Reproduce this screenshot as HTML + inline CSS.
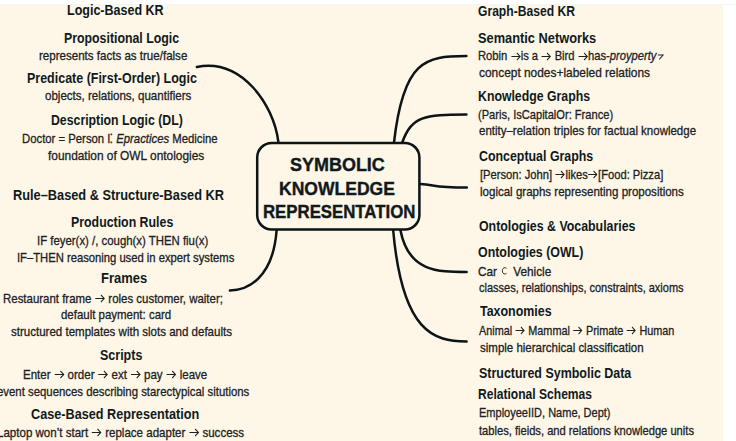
<!DOCTYPE html>
<html><head><meta charset="utf-8"><style>
html,body{margin:0;padding:0;}
body{width:736px;height:441px;overflow:hidden;position:relative;background:#fff;font-family:"Liberation Sans",sans-serif;color:#101a1d;}
#bg{position:absolute;left:0;top:5px;width:723px;height:436px;background:#fef6e7;}
#ln{position:absolute;left:0;top:4px;width:736px;height:1px;background:#f4f5f6;}
.t0,.t1,.t2{position:absolute;white-space:nowrap;transform-origin:0 0;}
.t0{font-size:13.0px;line-height:13.0px;color:#1a2225;-webkit-text-stroke:0.3px #1a2225;}
.t1{font-size:14.2px;line-height:14.2px;font-weight:bold;}
.ar{display:inline-block;vertical-align:-0.5px;}.sb{display:inline-block;vertical-align:1px;margin-left:1px}.sv{display:inline-block;vertical-align:0.5px;margin-left:0.5px}
.t2{font-size:19.0px;line-height:19.0px;font-weight:bold;-webkit-text-stroke:0.4px #101a1d;}
</style></head><body>
<div id="ln"></div><div id="bg"></div>
<svg width="736" height="441" style="position:absolute;left:0;top:0" fill="none" stroke="#0c1416" stroke-width="2.5" stroke-linecap="round">
<path d="M196.9,66.9 C241,58.2 273.6,103.5 278.4,142"/>
<path d="M276.6,230.5 C272.9,278.9 246.8,290.4 229.9,290.4"/>
<path d="M394,142.5 C403.3,60.1 425.3,56 466.4,56"/>
<path d="M402.2,142.5 C412,115.9 424.2,114.6 466.4,114.6"/>
<path d="M420,184.1 C436.6,184.9 431.7,187.6 466.8,187.6"/>
<path d="M400.5,230.5 C408.6,271.9 438,272 466.6,272"/>
<path d="M393.2,230.5 C402.3,332.8 434.3,341.4 466.6,341.4"/>
<rect x="257.2" y="143" width="162.2" height="86.5" rx="14.5" ry="14.5"/>
</svg>
<div class="t1" style="left:66.92px;top:3.28px;transform:scaleX(0.8815)">Logic-Based KR</div>
<div class="t1" style="left:63.63px;top:30.98px;transform:scaleX(0.8687)">Propositional Logic</div>
<div class="t0" style="left:39.41px;top:48.80px;transform:scaleX(0.8886)">represents facts as true/false</div>
<div class="t1" style="left:26.62px;top:70.98px;transform:scaleX(0.8792)">Predicate (First-Order) Logic</div>
<div class="t0" style="left:44.60px;top:89.20px;transform:scaleX(0.8878)">objects, relations, quantifiers</div>
<div class="t1" style="left:50.73px;top:112.68px;transform:scaleX(0.8662)">Description Logic (DL)</div>
<div class="t0" style="left:22.23px;top:132.00px;transform:scaleX(0.8713)">Doctor = Person I&#8282; <i>Epractices</i> Medicine</div>
<div class="t0" style="left:47.60px;top:149.40px;transform:scaleX(0.9147)">foundation of OWL ontologies</div>
<div class="t1" style="left:12.70px;top:187.68px;transform:scaleX(0.9009)">Rule&ndash;Based &amp; Structure-Based KR</div>
<div class="t1" style="left:70.73px;top:214.98px;transform:scaleX(0.8707)">Production Rules</div>
<div class="t0" style="left:37.12px;top:233.70px;transform:scaleX(0.8758)">IF feyer(x) /, cough(x) THEN fiu(x)</div>
<div class="t0" style="left:16.84px;top:250.70px;transform:scaleX(0.8640)">IF&ndash;THEN reasoning used in expert systems</div>
<div class="t1" style="left:100.99px;top:271.38px;transform:scaleX(0.9143)">Frames</div>
<div class="t0" style="left:3.22px;top:291.70px;transform:scaleX(0.8806)">Restaurant frame <svg class="ar" width="12" height="9" viewBox="0 0 12 9"><path d="M0.8,4.5H11M7.2,1L11,4.5L7.2,8" fill="none" stroke="currentColor" stroke-width="1.05"/></svg> roles customer, waiter;</div>
<div class="t0" style="left:60.50px;top:308.00px;transform:scaleX(0.8815)">default payment: card</div>
<div class="t0" style="left:11.01px;top:325.00px;transform:scaleX(0.8863)">structured templates with slots and defaults</div>
<div class="t1" style="left:100.42px;top:347.98px;transform:scaleX(0.8809)">Scripts</div>
<div class="t0" style="left:22.91px;top:367.60px;transform:scaleX(0.8869)">Enter <svg class="ar" width="12" height="9" viewBox="0 0 12 9"><path d="M0.8,4.5H11M7.2,1L11,4.5L7.2,8" fill="none" stroke="currentColor" stroke-width="1.05"/></svg> order <svg class="ar" width="12" height="9" viewBox="0 0 12 9"><path d="M0.8,4.5H11M7.2,1L11,4.5L7.2,8" fill="none" stroke="currentColor" stroke-width="1.05"/></svg> ext <svg class="ar" width="12" height="9" viewBox="0 0 12 9"><path d="M0.8,4.5H11M7.2,1L11,4.5L7.2,8" fill="none" stroke="currentColor" stroke-width="1.05"/></svg> pay <svg class="ar" width="12" height="9" viewBox="0 0 12 9"><path d="M0.8,4.5H11M7.2,1L11,4.5L7.2,8" fill="none" stroke="currentColor" stroke-width="1.05"/></svg> leave</div>
<div class="t0" style="left:-3.00px;top:384.50px;transform:scaleX(0.8750)">event sequences describing starectypical situtions</div>
<div class="t1" style="left:30.91px;top:406.68px;transform:scaleX(0.8925)">Case-Based Representation</div>
<div class="t0" style="left:-2.89px;top:425.90px;transform:scaleX(0.8877)">Laptop won&rsquo;t start <svg class="ar" width="12" height="9" viewBox="0 0 12 9"><path d="M0.8,4.5H11M7.2,1L11,4.5L7.2,8" fill="none" stroke="currentColor" stroke-width="1.05"/></svg> replace adapter <svg class="ar" width="12" height="9" viewBox="0 0 12 9"><path d="M0.8,4.5H11M7.2,1L11,4.5L7.2,8" fill="none" stroke="currentColor" stroke-width="1.05"/></svg> success</div>
<div class="t1" style="left:478.15px;top:3.68px;transform:scaleX(0.8536)">Graph-Based KR</div>
<div class="t1" style="left:478.10px;top:30.98px;transform:scaleX(0.9031)">Semantic Networks</div>
<div class="t0" style="left:477.64px;top:49.00px;transform:scaleX(0.8609)">Robin <svg class="ar" width="12" height="9" viewBox="0 0 12 9"><path d="M0.8,4.5H11M7.2,1L11,4.5L7.2,8" fill="none" stroke="currentColor" stroke-width="1.05"/></svg>is a <svg class="ar" width="12" height="9" viewBox="0 0 12 9"><path d="M0.8,4.5H11M7.2,1L11,4.5L7.2,8" fill="none" stroke="currentColor" stroke-width="1.05"/></svg> Bird <svg class="ar" width="12" height="9" viewBox="0 0 12 9"><path d="M0.8,4.5H11M7.2,1L11,4.5L7.2,8" fill="none" stroke="currentColor" stroke-width="1.05"/></svg>has-<i>proyperty</i><svg class="sv" width="8" height="6" viewBox="0 0 8 6"><path d="M1,0.9H7.2L2.6,5.3" fill="none" stroke="currentColor" stroke-width="1.05"/></svg></div>
<div class="t0" style="left:478.70px;top:66.30px;transform:scaleX(0.9156)">concept nodes+labeled relations</div>
<div class="t1" style="left:478.13px;top:89.28px;transform:scaleX(0.8664)">Knowledge Graphs</div>
<div class="t0" style="left:477.95px;top:108.00px;transform:scaleX(0.8538)">(Paris, IsCapitalOr: France)</div>
<div class="t0" style="left:478.50px;top:124.30px;transform:scaleX(0.8833)">entity&ndash;relation triples for factual knowledge</div>
<div class="t1" style="left:478.63px;top:148.58px;transform:scaleX(0.8731)">Conceptual Graphs</div>
<div class="t0" style="left:479.64px;top:167.80px;transform:scaleX(0.8590)">[Person: John] <svg class="ar" width="12" height="9" viewBox="0 0 12 9"><path d="M0.8,4.5H11M7.2,1L11,4.5L7.2,8" fill="none" stroke="currentColor" stroke-width="1.05"/></svg>likes<svg class="ar" width="12" height="9" viewBox="0 0 12 9"><path d="M0.8,4.5H11M7.2,1L11,4.5L7.2,8" fill="none" stroke="currentColor" stroke-width="1.05"/></svg>[Food: Pizza]</div>
<div class="t0" style="left:479.91px;top:185.20px;transform:scaleX(0.8868)">logical graphs representing propositions</div>
<div class="t1" style="left:478.63px;top:218.98px;transform:scaleX(0.8719)">Ontologies &amp; Vocabularies</div>
<div class="t1" style="left:478.33px;top:245.28px;transform:scaleX(0.8731)">Ontologies (OWL)</div>
<div class="t0" style="left:477.59px;top:264.70px;transform:scaleX(0.9076)">Car <svg class="sb" width="6" height="8" viewBox="0 0 6 8"><path d="M5.4,1.3C4.9,0.9 4.3,0.7 3.6,0.7C1.9,0.7 0.8,2.1 0.8,3.85C0.8,5.6 1.9,7 3.6,7C4.3,7 4.9,6.8 5.4,6.4" fill="none" stroke="currentColor" stroke-width="1"/></svg>&nbsp; Vehicle</div>
<div class="t0" style="left:478.50px;top:280.60px;transform:scaleX(0.8450)">classes, relationships, constraints, axioms</div>
<div class="t1" style="left:479.50px;top:303.98px;transform:scaleX(0.8765)">Taxonomies</div>
<div class="t0" style="left:478.50px;top:323.60px;transform:scaleX(0.8352)">Animal <svg class="ar" width="12" height="9" viewBox="0 0 12 9"><path d="M0.8,4.5H11M7.2,1L11,4.5L7.2,8" fill="none" stroke="currentColor" stroke-width="1.05"/></svg> Mammal <svg class="ar" width="12" height="9" viewBox="0 0 12 9"><path d="M0.8,4.5H11M7.2,1L11,4.5L7.2,8" fill="none" stroke="currentColor" stroke-width="1.05"/></svg> Primate <svg class="ar" width="12" height="9" viewBox="0 0 12 9"><path d="M0.8,4.5H11M7.2,1L11,4.5L7.2,8" fill="none" stroke="currentColor" stroke-width="1.05"/></svg> Human</div>
<div class="t0" style="left:479.92px;top:340.50px;transform:scaleX(0.8842)">simple hierarchical classification</div>
<div class="t1" style="left:478.52px;top:366.48px;transform:scaleX(0.8780)">Structured Symbolic Data</div>
<div class="t1" style="left:478.35px;top:386.98px;transform:scaleX(0.8504)">Relational Schemas</div>
<div class="t0" style="left:478.75px;top:405.70px;transform:scaleX(0.8468)">EmployeeIID, Name, Dept)</div>
<div class="t0" style="left:479.20px;top:423.70px;transform:scaleX(0.8572)">tables, fieids, and relations knowledge units</div>
<div class="t2" style="left:289.85px;top:154.82px;transform:scaleX(0.9455)">SYMBOLIC</div>
<div class="t2" style="left:279.48px;top:178.62px;transform:scaleX(0.9226)">KNOWLEDGE</div>
<div class="t2" style="left:263.32px;top:201.72px;transform:scaleX(0.8835)">REPRESENTATION</div>
</body></html>
